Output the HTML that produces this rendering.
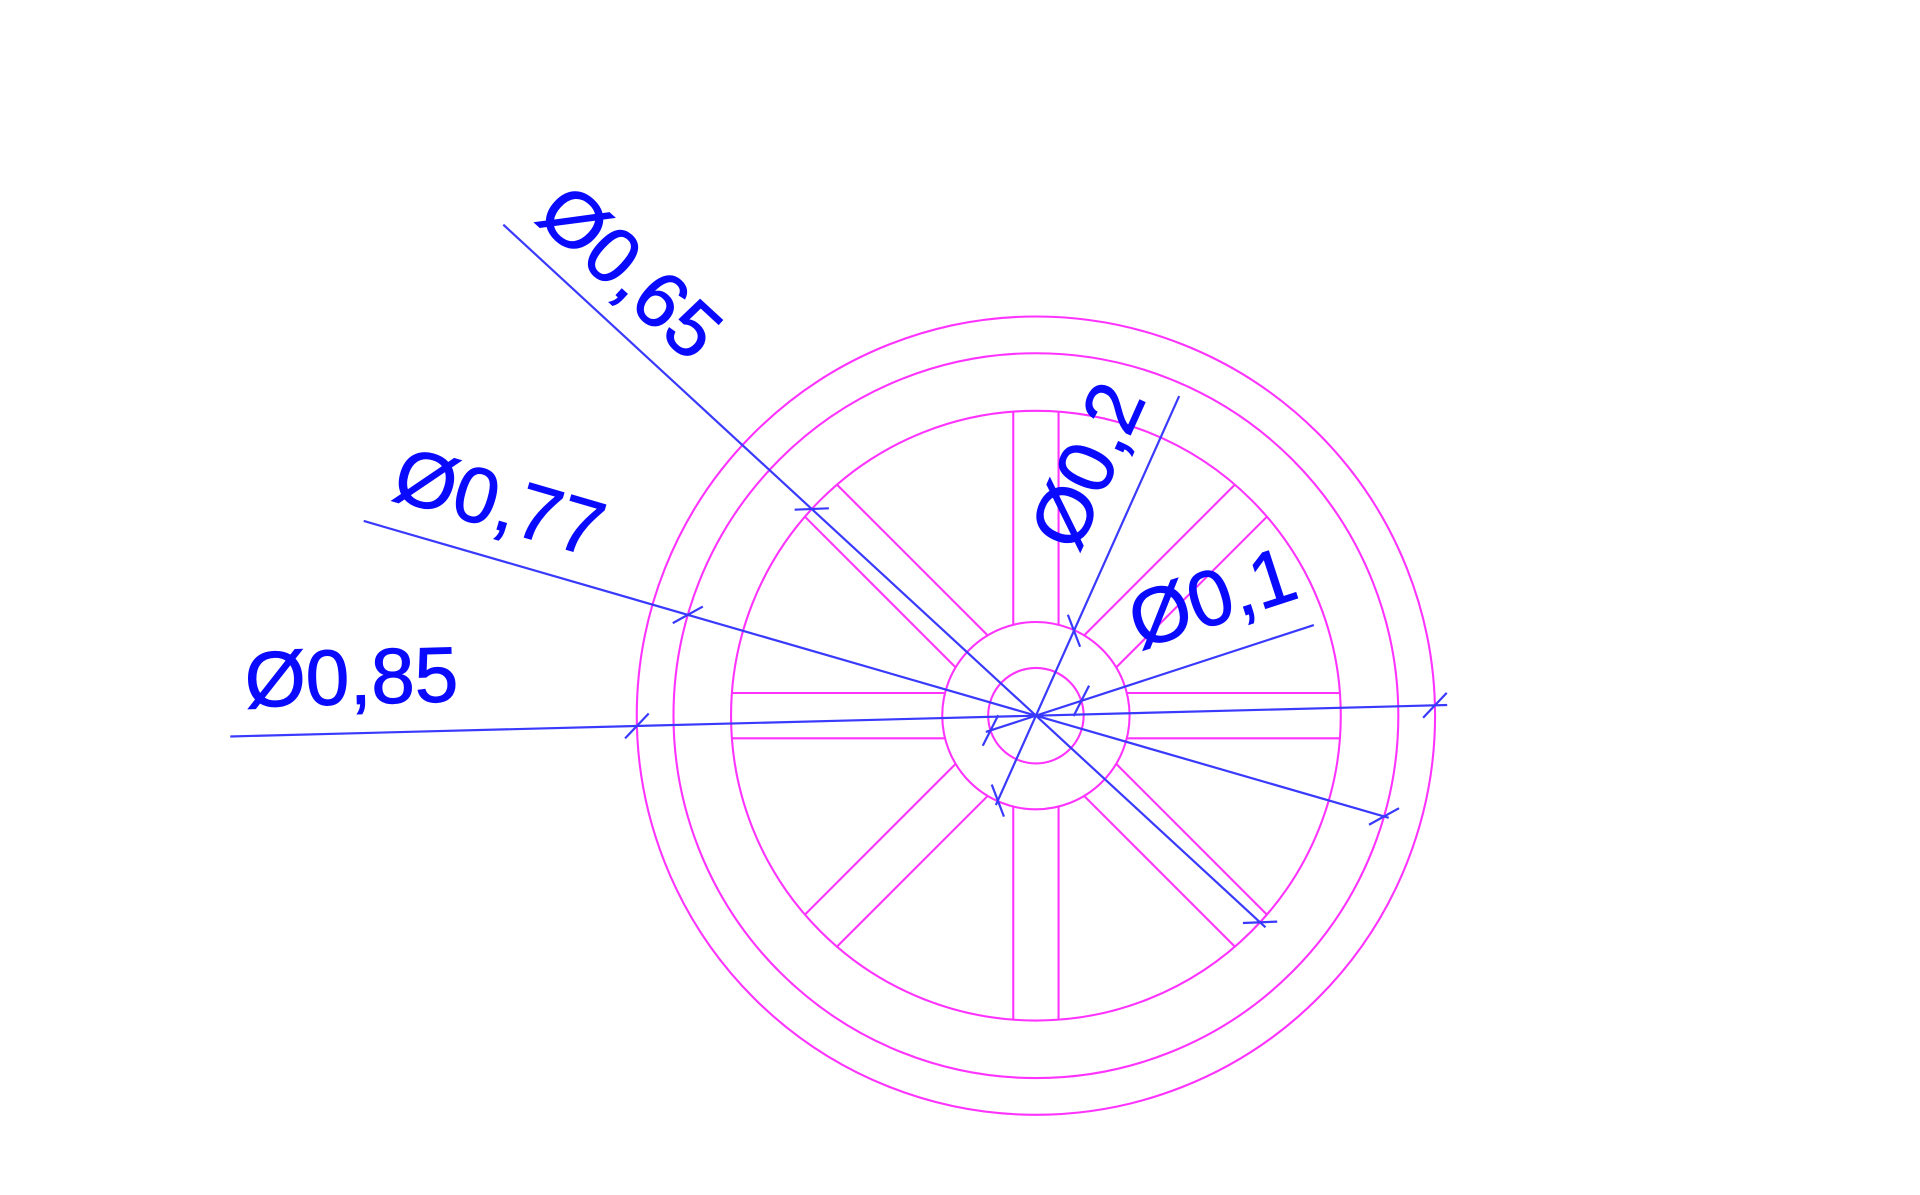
<!DOCTYPE html>
<html><head><meta charset="utf-8"><style>
html,body{margin:0;padding:0;background:#fff;}
svg{display:block;}
</style></head><body>
<svg id="drawing" width="1920" height="1195" viewBox="0 0 1568 976" xmlns="http://www.w3.org/2000/svg">
<g id="wheel" fill="none" stroke="#ff33ff" stroke-width="1.7"></g>
<g id="dims" stroke="#3a3aff" stroke-width="1.8" fill="none"></g>
<g id="labels" fill="#0a0aff" stroke="#0a0aff" stroke-width="0.8" font-family="Liberation Sans, Arial, sans-serif" font-size="64"></g>
</svg>
<script>
const NS='http://www.w3.org/2000/svg';
const cx=846, cy=584.5;
// circle radii (display units)
const circleRadii=[326,296,249,76.5,39];
const circleNames=['outer-rim','inner-rim','spoke-rim','hub-outer','hub-inner'];
// spoke angles (degrees) and half width
const spokeAngles=[0,45,90,135];
const spokeHalfWidth=18.5;
// dimensions
const dimLabels=['Ø0,85','Ø0,77','Ø0,65','Ø0,2','Ø0,1'];
const dimFarDx=[-658,-549,-435,117,227];
const dimFarDy=[17,-159,-401,-261,-74];
const dimRadius=[326,296,249,76,39];
const labelX=[287,408,515,888,990];
const labelY=[553,410,222,380,488];
const labelAngle=[-1.5,16.2,42.7,-65.9,-18];

function el(tag,attrs,parent){const e=document.createElementNS(NS,tag);for(const k in attrs)e.setAttribute(k,attrs[k]);parent.appendChild(e);return e;}
const wheel=document.getElementById('wheel');
circleRadii.forEach((r,i)=>{
  const c=el('circle',{cx:cx,cy:cy,r:r},wheel);
  
  
});
const rIn=circleRadii[3], rOut=circleRadii[2];
spokeAngles.forEach(a=>{
  const t=a*Math.PI/180, ux=Math.cos(t), uy=Math.sin(t), nx=-uy, ny=ux;
  [-1,1].forEach(dir=>{
    [-1,1].forEach(side=>{
      const o=side*spokeHalfWidth;
      const s1=Math.sqrt(rIn*rIn-o*o), s2=Math.sqrt(rOut*rOut-o*o);
      const l=el('line',{x1:cx+nx*o+ux*dir*s1,y1:cy+ny*o+uy*dir*s1,x2:cx+nx*o+ux*dir*s2,y2:cy+ny*o+uy*dir*s2},wheel);
      
      
    });
  });
});
const dims=document.getElementById('dims'), labels=document.getElementById('labels');
dimLabels.forEach((txt,i)=>{
  const L=Math.hypot(dimFarDx[i],dimFarDy[i]), ux=dimFarDx[i]/L, uy=dimFarDy[i]/L;
  const r=dimRadius[i];
  const ext=(i===0)?10:(i===2?6:4);
  const x2=cx-ux*(r+ext), y2=cy-uy*(r+ext);
  const ln=el('line',{x1:cx+dimFarDx[i],y1:cy+dimFarDy[i],x2:x2,y2:y2},dims);
  
  
  [1,-1].forEach(s=>{
    const px=cx+ux*r*s, py=cy+uy*r*s;
    const t=Math.atan2(uy,ux)-Math.PI/4;
    const h=14;
    const tk=el('line',{x1:px-Math.cos(t)*h,y1:py-Math.sin(t)*h,x2:px+Math.cos(t)*h,y2:py+Math.sin(t)*h},dims);
    
    
  });
  const tx=el('text',{x:labelX[i],y:labelY[i],'text-anchor':'middle','dominant-baseline':'central',transform:`rotate(${labelAngle[i]} ${labelX[i]} ${labelY[i]})`},labels);
  tx.textContent=txt;
  
  
});
</script>
</body></html>
